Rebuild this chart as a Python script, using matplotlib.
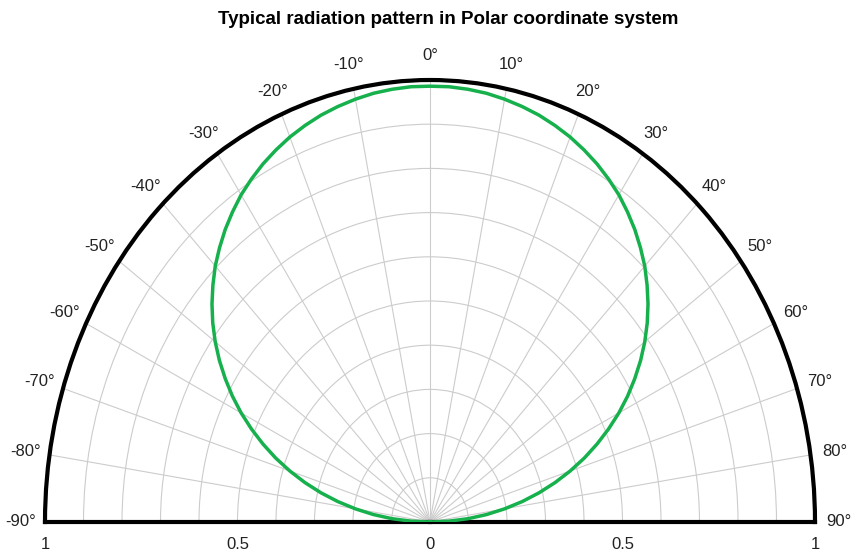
import numpy as np
import matplotlib
matplotlib.use("Agg")
import matplotlib.pyplot as plt

# ---- data ----
title = "Typical radiation pattern in Polar coordinate system"
angle_ticks = [-90, -80, -70, -60, -50, -40, -30, -20, -10, 0, 10, 20, 30, 40, 50, 60, 70, 80, 90]
angle_labels = [f"{a}\u00b0" for a in angle_ticks]
ring_values = [0.1, 0.2, 0.3, 0.4, 0.5, 0.6, 0.7, 0.8, 0.9, 1.0]
radial_label_pos = [(-90, 1.0), (-90, 0.5), (0, 0.0), (90, 0.5), (90, 1.0)]
radial_label_text = ["1", "0.5", "0", "0.5", "1"]

# relative intensity read at 0, 2.5, 5, ... 90 degrees (pattern is symmetric)
pattern_half_angles = [0, 2.5, 5, 7.5, 10, 12.5, 15, 17.5, 20, 22.5, 25, 27.5, 30, 32.5, 35, 37.5,
                       40, 42.5, 45, 47.5, 50, 52.5, 55, 57.5, 60, 62.5, 65, 67.5, 70, 72.5,
                       75, 77.5, 80, 82.5, 85, 87.5, 90]
pattern_half_values = [0.986, 0.986, 0.984, 0.981, 0.976, 0.970, 0.963, 0.954, 0.944, 0.932,
                       0.919, 0.904, 0.888, 0.869, 0.849, 0.827, 0.804, 0.778, 0.751, 0.722,
                       0.691, 0.658, 0.623, 0.587, 0.549, 0.509, 0.468, 0.426, 0.382, 0.337,
                       0.291, 0.244, 0.196, 0.148, 0.099, 0.049, 0.0]
pattern_angles = [-a for a in pattern_half_angles[::-1]] + pattern_half_angles[1:]
pattern_values = pattern_half_values[::-1] + pattern_half_values[1:]

plt.rcParams['font.family'] = ['Liberation Sans', 'DejaVu Sans']

# ---- layout (pixels) ----
W, H = 851, 554
center_x, center_y = 430, 522
rx_px, ry_px = 385, 442          # half width / height of the elliptical half-disc

fig = plt.figure(figsize=(W / 100, H / 100), dpi=100)
# polar wedge bbox is padded to a square, so the half disc occupies the middle half of the axes height
ax_h = 2 * ry_px
ax_bottom_px = center_y + 0.25 * ax_h
ax = fig.add_axes([(center_x - rx_px) / W, (H - ax_bottom_px) / H, 2 * rx_px / W, ax_h / H],
                  projection='polar')
ax.set_theta_zero_location('N')
ax.set_theta_direction(-1)
ax.set_thetamin(-90)
ax.set_thetamax(90)
ax.set_ylim(0, 1)
ax.set_aspect('auto')


def view_angle(theta_deg):
    """Angle on the stretched polar axes so that a direction appears at its true angle on screen."""
    t = np.deg2rad(np.asarray(theta_deg, dtype=float))
    return np.arctan2(ry_px * np.sin(t), rx_px * np.cos(t))


ax.set_xticks(view_angle(angle_ticks))
ax.set_xticklabels(angle_labels, fontsize=12, color='#222222')
ax.set_yticks(ring_values)
ax.set_yticklabels([])
ax.tick_params(axis='x', pad=7)
ax.grid(True, color='#cccccc', lw=0.8)

for name in ['polar', 'start', 'end']:
    ax.spines[name].set_linewidth(3)
    ax.spines[name].set_color('black')
ax.spines['inner'].set_visible(False)

ax.plot(view_angle(pattern_angles), pattern_values, color='#16b04c', lw=2.5, zorder=5,
        solid_joinstyle='round')

for (a, r), t in zip(radial_label_pos, radial_label_text):
    ax.annotate(t, xy=(view_angle(a), r), xytext=(0, -16), textcoords='offset points',
                ha='center', va='center', fontsize=12, color='#222222', annotation_clip=False)

fig.text(448 / W, 1 - 19 / H, title, ha='center', va='center', fontsize=13.5, fontweight='bold')

fig.savefig('out.png', dpi=100)
